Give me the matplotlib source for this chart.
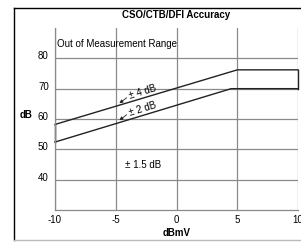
import numpy as np
import matplotlib.pyplot as plt
import matplotlib.transforms as mtransforms
from matplotlib.lines import Line2D

plt.rcParams["font.family"] = ["Liberation Sans", "DejaVu Sans"]

# Limit curves (dBmV input vs dB level)
upper_x = [-10, 5, 10]
upper_y = [58.2, 76.2, 76.2]
lower_x = [-10, 4.5, 10]
lower_y = [52.4, 70.0, 70.0]

xticks = [-10, -5, 0, 5, 10]
yticks = [40, 50, 60, 70, 80]

fs = 7
ink = "#222222"
grid_c = "#8a8a8a"

fig = plt.figure(figsize=(3.01, 2.42), dpi=100)
ax = fig.add_axes([55 / 301, 1 - 210 / 242, 243 / 301, 182 / 242])

# outer frame (right edge lies outside the picture)
fig.lines.append(Line2D([14 / 301, 14 / 301], [1 - 240 / 242, 1 - 8 / 242],
                        transform=fig.transFigure, color="black", lw=1.0))
fig.lines.append(Line2D([14 / 301, 1.0], [1 - 8 / 242, 1 - 8 / 242],
                        transform=fig.transFigure, color="black", lw=1.0))
fig.lines.append(Line2D([14 / 301, 1.0], [1 - 240 / 242, 1 - 240 / 242],
                        transform=fig.transFigure, color="#bbbbbb", lw=1.0))

ax.set_xlim(-10, 10)
ax.set_ylim(30, 90)
ax.set_xticks(xticks)
ax.set_yticks(yticks)
ax.set_xticklabels([str(v) for v in xticks], fontsize=fs)
ax.set_yticklabels([str(v) for v in yticks], fontsize=fs)
ax.tick_params(axis="x", length=0, pad=3.5)
ax.tick_params(axis="y", length=0, pad=4.5)
# y labels sit slightly above their grid lines
shift = mtransforms.ScaledTranslation(0, 3 / 100, fig.dpi_scale_trans)
for lab in ax.get_yticklabels():
    lab.set_transform(lab.get_transform() + shift)
ax.grid(True, color=grid_c, linewidth=0.9)
for s in ["top", "right"]:
    ax.spines[s].set_visible(False)
for s in ["left", "bottom"]:
    ax.spines[s].set_color(grid_c)
    ax.spines[s].set_linewidth(0.9)

ax.plot(upper_x, upper_y, color=ink, linewidth=1.0, clip_on=False)
ax.plot(lower_x, lower_y, color=ink, linewidth=1.0, clip_on=False)
ax.plot([-10, -10], [lower_y[0], upper_y[0]], color=ink, linewidth=1.0, clip_on=False)
ax.plot([10, 10], [lower_y[-1], upper_y[-1]], color=ink, linewidth=1.0, clip_on=False)

fig.text(176.5 / 301, 1 - 15 / 242, "CSO/CTB/DFI Accuracy", fontsize=fs,
         fontweight="bold", ha="center", va="center")
fig.text(176.5 / 301, 1 - 233 / 242, "dBmV", fontsize=fs,
         fontweight="bold", ha="center", va="center")
fig.text(20 / 301, 1 - 115 / 242, "dB", fontsize=fs, fontweight="bold",
         ha="left", va="center")

ax.text(-9.85, 84.6, "Out of Measurement Range", fontsize=fs, va="center")
ax.text(-4.2, 44.8, "± 1.5 dB", fontsize=fs, va="center")

ax.text(-2.8, 69.0, "± 4 dB", fontsize=fs, rotation=17, ha="center",
        va="center", rotation_mode="anchor")
ax.text(-2.8, 63.4, "± 2 dB", fontsize=fs, rotation=17, ha="center",
        va="center", rotation_mode="anchor")
ax.annotate("", xy=(-4.7, 65.2), xytext=(-4.1, 67.0),
            arrowprops=dict(arrowstyle="-|>", color=ink, lw=0.6,
                            mutation_scale=5, shrinkA=0, shrinkB=0))
ax.annotate("", xy=(-4.7, 59.6), xytext=(-4.1, 61.4),
            arrowprops=dict(arrowstyle="-|>", color=ink, lw=0.6,
                            mutation_scale=5, shrinkA=0, shrinkB=0))

plt.savefig("out.png", dpi=100)
